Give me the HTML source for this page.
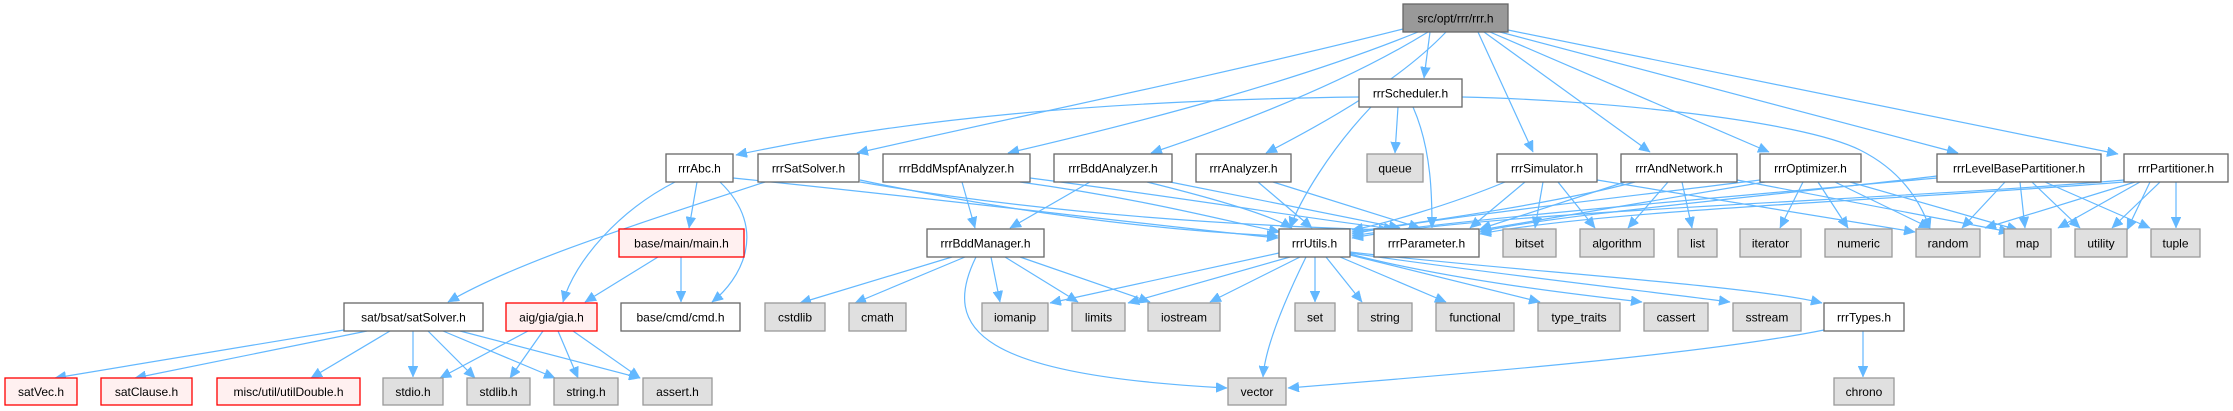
<!DOCTYPE html>
<html><head><meta charset="utf-8"><style>
html,body{margin:0;padding:0;background:#fff;}
svg{display:block;}
text{font-family:"Liberation Sans",Arial,sans-serif;font-size:12px;text-anchor:middle;fill:#000;}
.w{fill:#fff;stroke:#666;stroke-width:1.3}
.g{fill:#e0e0e0;stroke:#999;stroke-width:1.3}
.r{fill:#fff0f0;stroke:#f00;stroke-width:1.3}
.k{fill:#999;stroke:#666;stroke-width:1.3}
path{fill:none;stroke:#63b8ff;stroke-width:1.2;marker-end:url(#a)}
</style></head><body>
<svg width="2233" height="411" viewBox="0 0 2233 411" xmlns="http://www.w3.org/2000/svg">
<defs><marker id="a" markerUnits="userSpaceOnUse" markerWidth="12" markerHeight="10" refX="11" refY="5" orient="auto"><path d="M0,0 L11,5 L0,10 Z" style="fill:#63b8ff;stroke:#63b8ff;stroke-width:0.5;marker-end:none"/></marker></defs>
<!-- edges -->
<path d="M1430,32 L1424,78"/>
<path d="M1403,29 C1200,80 1000,120 857,153"/>
<path d="M1418,32 C1300,80 1150,120 1008,153"/>
<path d="M1428,32 C1350,80 1250,120 1151,153"/>
<path d="M1446,32 C1400,80 1330,120 1266,153"/>
<path d="M1478,32 L1533,152"/>
<path d="M1484,32 L1650,152"/>
<path d="M1490,32 L1769,152"/>
<path d="M1500,32 L1958,153"/>
<path d="M1508,30 L2118,154"/>
<path d="M1359,97 C1100,100 900,120 736,155"/>
<path d="M1462,97 C1600,100 1800,120 1860,150 C1900,170 1920,200 1930,229"/>
<path d="M1398,107 L1395,153"/>
<path d="M1371,107 C1330,150 1300,200 1290,228"/>
<path d="M1413,107 C1432,150 1432,200 1432,228"/>
<path d="M733,178 C950,200 1150,225 1278,238"/>
<path d="M675,182 C620,210 575,260 563,302"/>
<path d="M697,182 L689,228"/>
<path d="M720,182 C770,230 740,280 712,302"/>
<path d="M658,257 L585,302"/>
<path d="M681,257 L681,302"/>
<path d="M765,182 C650,220 520,260 448,302"/>
<path d="M344,330 L55,378"/>
<path d="M367,331 L135,378"/>
<path d="M390,331 L311,378"/>
<path d="M413,331 L413,377"/>
<path d="M428,331 L475,378"/>
<path d="M443,331 L555,378"/>
<path d="M460,331 L640,378"/>
<path d="M528,331 L440,378"/>
<path d="M543,331 L510,378"/>
<path d="M558,331 L578,378"/>
<path d="M573,331 L640,378"/>
<path d="M860,180 C1000,210 1150,230 1278,236"/>
<path d="M860,182 C1050,215 1250,226 1390,230"/>
<path d="M962,182 L975,228"/>
<path d="M1020,182 C1150,200 1230,222 1280,232"/>
<path d="M1030,178 C1200,200 1330,222 1395,229"/>
<path d="M1090,182 L1010,228"/>
<path d="M1147,182 C1220,200 1270,215 1292,228"/>
<path d="M1170,182 L1400,228"/>
<path d="M1258,182 L1312,228"/>
<path d="M1273,182 L1420,228"/>
<path d="M952,257 L800,303"/>
<path d="M965,257 L855,303"/>
<path d="M991,257 L1000,302"/>
<path d="M1005,257 L1078,302"/>
<path d="M1020,257 L1150,302"/>
<path d="M976,257 C940,330 980,375 1227,388"/>
<path d="M1279,253 L1050,303"/>
<path d="M1290,257 L1128,303"/>
<path d="M1300,257 L1210,302"/>
<path d="M1306,257 C1280,310 1265,350 1263,377"/>
<path d="M1315,257 L1315,302"/>
<path d="M1326,257 L1362,302"/>
<path d="M1340,257 L1446,302"/>
<path d="M1350,255 L1540,302"/>
<path d="M1350,254 C1450,280 1580,295 1642,302"/>
<path d="M1350,253 C1500,275 1680,295 1730,302"/>
<path d="M1350,252 C1500,270 1750,285 1822,303"/>
<path d="M1824,330 C1700,355 1450,375 1288,388"/>
<path d="M1863,331 L1863,377"/>
<path d="M1505,182 C1450,205 1380,225 1352,230"/>
<path d="M1525,182 L1470,228"/>
<path d="M1543,182 L1535,228"/>
<path d="M1558,182 L1595,228"/>
<path d="M1597,180 L1915,232"/>
<path d="M1635,182 C1550,205 1400,225 1352,232"/>
<path d="M1625,182 L1480,229"/>
<path d="M1668,182 L1628,228"/>
<path d="M1682,182 L1692,228"/>
<path d="M1737,180 L2010,232"/>
<path d="M1760,180 C1600,200 1420,220 1352,234"/>
<path d="M1765,182 L1480,230"/>
<path d="M1803,182 L1780,228"/>
<path d="M1818,182 L1848,228"/>
<path d="M1835,182 L1930,228"/>
<path d="M1850,182 L2018,230"/>
<path d="M1937,178 C1750,195 1450,220 1352,236"/>
<path d="M1937,176 C1780,195 1550,215 1480,232"/>
<path d="M2005,182 L1962,228"/>
<path d="M2020,182 L2025,228"/>
<path d="M2032,182 L2080,228"/>
<path d="M2045,182 L2150,228"/>
<path d="M2124,180 C1900,200 1500,210 1352,238"/>
<path d="M2124,182 C1900,200 1600,210 1480,234"/>
<path d="M2135,182 L1985,228"/>
<path d="M2140,182 L2058,228"/>
<path d="M2160,182 L2112,228"/>
<path d="M2176,182 L2176,228"/>
<path d="M2150,182 L2127,230"/>
<!-- nodes -->
<rect class="k" x="1403" y="4" width="105" height="28"/><text x="1455.5" y="22.5">src/opt/rrr/rrr.h</text>
<rect class="w" x="1359" y="79" width="103" height="28"/><text x="1410.5" y="97.5">rrrScheduler.h</text>
<rect class="w" x="666" y="154" width="67" height="28"/><text x="699.5" y="172.5">rrrAbc.h</text>
<rect class="w" x="758" y="154" width="101" height="28"/><text x="808.5" y="172.5">rrrSatSolver.h</text>
<rect class="w" x="883" y="154" width="147" height="28"/><text x="956.5" y="172.5">rrrBddMspfAnalyzer.h</text>
<rect class="w" x="1054" y="154" width="118" height="28"/><text x="1113" y="172.5">rrrBddAnalyzer.h</text>
<rect class="w" x="1196" y="154" width="95" height="28"/><text x="1243.5" y="172.5">rrrAnalyzer.h</text>
<rect class="g" x="1367" y="154" width="56" height="28"/><text x="1395" y="172.5">queue</text>
<rect class="w" x="1497" y="154" width="100" height="28"/><text x="1547" y="172.5">rrrSimulator.h</text>
<rect class="w" x="1621" y="154" width="116" height="28"/><text x="1679" y="172.5">rrrAndNetwork.h</text>
<rect class="w" x="1760" y="154" width="101" height="28"/><text x="1810.5" y="172.5">rrrOptimizer.h</text>
<rect class="w" x="1937" y="154" width="164" height="28"/><text x="2019" y="172.5">rrrLevelBasePartitioner.h</text>
<rect class="w" x="2124" y="154" width="104" height="28"/><text x="2176" y="172.5">rrrPartitioner.h</text>
<rect class="r" x="619" y="229" width="125" height="28"/><text x="681.5" y="247.5">base/main/main.h</text>
<rect class="w" x="927" y="229" width="117" height="28"/><text x="985.5" y="247.5">rrrBddManager.h</text>
<rect class="w" x="1279" y="229" width="71" height="28"/><text x="1314.5" y="247.5">rrrUtils.h</text>
<rect class="w" x="1374" y="229" width="105" height="28"/><text x="1426.5" y="247.5">rrrParameter.h</text>
<rect class="g" x="1503" y="229" width="53" height="28"/><text x="1529.5" y="247.5">bitset</text>
<rect class="g" x="1580" y="229" width="74" height="28"/><text x="1617" y="247.5">algorithm</text>
<rect class="g" x="1678" y="229" width="39" height="28"/><text x="1697.5" y="247.5">list</text>
<rect class="g" x="1740" y="229" width="61" height="28"/><text x="1770.5" y="247.5">iterator</text>
<rect class="g" x="1825" y="229" width="67" height="28"/><text x="1858.5" y="247.5">numeric</text>
<rect class="g" x="1916" y="229" width="64" height="28"/><text x="1948" y="247.5">random</text>
<rect class="g" x="2004" y="229" width="47" height="28"/><text x="2027.5" y="247.5">map</text>
<rect class="g" x="2075" y="229" width="52" height="28"/><text x="2101" y="247.5">utility</text>
<rect class="g" x="2151" y="229" width="49" height="28"/><text x="2175.5" y="247.5">tuple</text>
<rect class="w" x="344" y="303" width="139" height="28"/><text x="413.5" y="321.5">sat/bsat/satSolver.h</text>
<rect class="r" x="506" y="303" width="91" height="28"/><text x="551.5" y="321.5">aig/gia/gia.h</text>
<rect class="w" x="621" y="303" width="119" height="28"/><text x="680.5" y="321.5">base/cmd/cmd.h</text>
<rect class="g" x="765" y="303" width="60" height="28"/><text x="795" y="321.5">cstdlib</text>
<rect class="g" x="849" y="303" width="57" height="28"/><text x="877.5" y="321.5">cmath</text>
<rect class="g" x="982" y="303" width="66" height="28"/><text x="1015" y="321.5">iomanip</text>
<rect class="g" x="1072" y="303" width="53" height="28"/><text x="1098.5" y="321.5">limits</text>
<rect class="g" x="1148" y="303" width="72" height="28"/><text x="1184" y="321.5">iostream</text>
<rect class="g" x="1295" y="303" width="40" height="28"/><text x="1315" y="321.5">set</text>
<rect class="g" x="1358" y="303" width="54" height="28"/><text x="1385" y="321.5">string</text>
<rect class="g" x="1436" y="303" width="78" height="28"/><text x="1475" y="321.5">functional</text>
<rect class="g" x="1538" y="303" width="82" height="28"/><text x="1579" y="321.5">type_traits</text>
<rect class="g" x="1644" y="303" width="64" height="28"/><text x="1676" y="321.5">cassert</text>
<rect class="g" x="1733" y="303" width="68" height="28"/><text x="1767" y="321.5">sstream</text>
<rect class="w" x="1824" y="303" width="80" height="28"/><text x="1864" y="321.5">rrrTypes.h</text>
<rect class="r" x="5" y="378" width="72" height="27"/><text x="41" y="396">satVec.h</text>
<rect class="r" x="101" y="378" width="91" height="27"/><text x="146.5" y="396">satClause.h</text>
<rect class="r" x="217" y="378" width="143" height="27"/><text x="288.5" y="396">misc/util/utilDouble.h</text>
<rect class="g" x="383" y="378" width="60" height="27"/><text x="413" y="396">stdio.h</text>
<rect class="g" x="467" y="378" width="63" height="27"/><text x="498.5" y="396">stdlib.h</text>
<rect class="g" x="554" y="378" width="64" height="27"/><text x="586" y="396">string.h</text>
<rect class="g" x="643" y="378" width="69" height="27"/><text x="677.5" y="396">assert.h</text>
<rect class="g" x="1228" y="378" width="58" height="27"/><text x="1257" y="396">vector</text>
<rect class="g" x="1834" y="378" width="60" height="27"/><text x="1864" y="396">chrono</text>
</svg>
</body></html>
